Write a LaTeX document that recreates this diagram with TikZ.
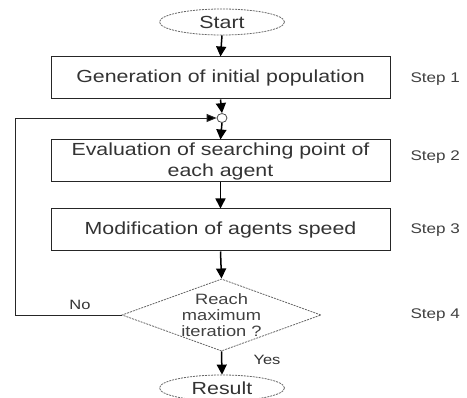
\documentclass[tikz,border=0pt]{standalone}
\usepackage{fontspec}
\setmainfont{Liberation Sans}
\newfontfamily\wide[FakeStretch=1.22]{Liberation Sans}
\usetikzlibrary{shapes.geometric,arrows.meta}
\begin{document}
\begin{tikzpicture}[x=1pt,y=-1pt,
  font=\wide\fontsize{17.5}{21}\selectfont,
  proc/.style={draw=black!85,line width=1pt,minimum width=339pt,minimum height=42pt,inner sep=0pt,align=center,text=black!80},
  term/.style={ellipse,draw=black!60,dash pattern=on 2pt off 1pt,line width=0.8pt,minimum width=125pt,minimum height=26pt,inner sep=0pt,text=black!80},
  dec/.style={diamond,draw=black!60,dash pattern=on 2pt off 1pt,line width=0.8pt,minimum width=193pt,minimum height=70pt,inner sep=0pt,aspect=2.76,align=center,text=black!75,font=\wide\fontsize{15}{16}\selectfont},
  steplbl/.style={anchor=west,text=black!75,font=\wide\fontsize{14}{15}\selectfont},
  lbl/.style={text=black!80,font=\wide\fontsize{13.5}{14}\selectfont},
  conn/.style={line width=1.5pt,draw=black,-{Stealth[length=10pt,width=10pt,inset=0pt,fill=black]}},
  fb/.style={line width=0.9pt,draw=black!85}]
\useasboundingbox (0,0) rectangle (467,398);
\node[term] (start) at (222,22) {Start};
\node[proc] (b1) at (220.5,78) {Generation of initial population};
\node[draw=black!70,ellipse,line width=0.8pt,minimum width=10pt,minimum height=9pt,inner sep=0pt] (j) at (222,118) {};
\node[proc] (b2) at (220.5,161) {Evaluation of searching point of\\ each agent};
\node[proc] (b3) at (220.5,230) {Modification of agents speed};
\node[dec] (d) at (221.5,315) {Reach\\ maximum\\ iteration ?};
\node[term] (res) at (222,388) {Result};
\node[steplbl] (s1) at (407,79) {Step 1};
\node[steplbl] (s2) at (407,157) {Step 2};
\node[steplbl] (s3) at (407,230) {Step 3};
\node[steplbl] (s4) at (407,315) {Step 4};
\coordinate (c1) at (15,315);
\coordinate (c2) at (15,118);
\draw[conn] (start.south) -- (b1.north);
\draw[conn] (b1.south) -- (j.north);
\draw[conn] (j.south) -- (b2.north);
\draw[conn] (b2.south) -- (b3.north);
\draw[conn] (b3.south) -- (d.north);
\draw[conn] (d.south) -- (res.north);
\draw[fb] (d.west) -- (c1) -- (c2);
\draw[fb,-{Stealth[length=10pt,width=8pt,inset=0pt,fill=black]}] (c2) -- (j.west);
\node[lbl] (no) at (80,305) {No};
\node[lbl] (yes) at (267,360) {Yes};
\end{tikzpicture}
\end{document}
